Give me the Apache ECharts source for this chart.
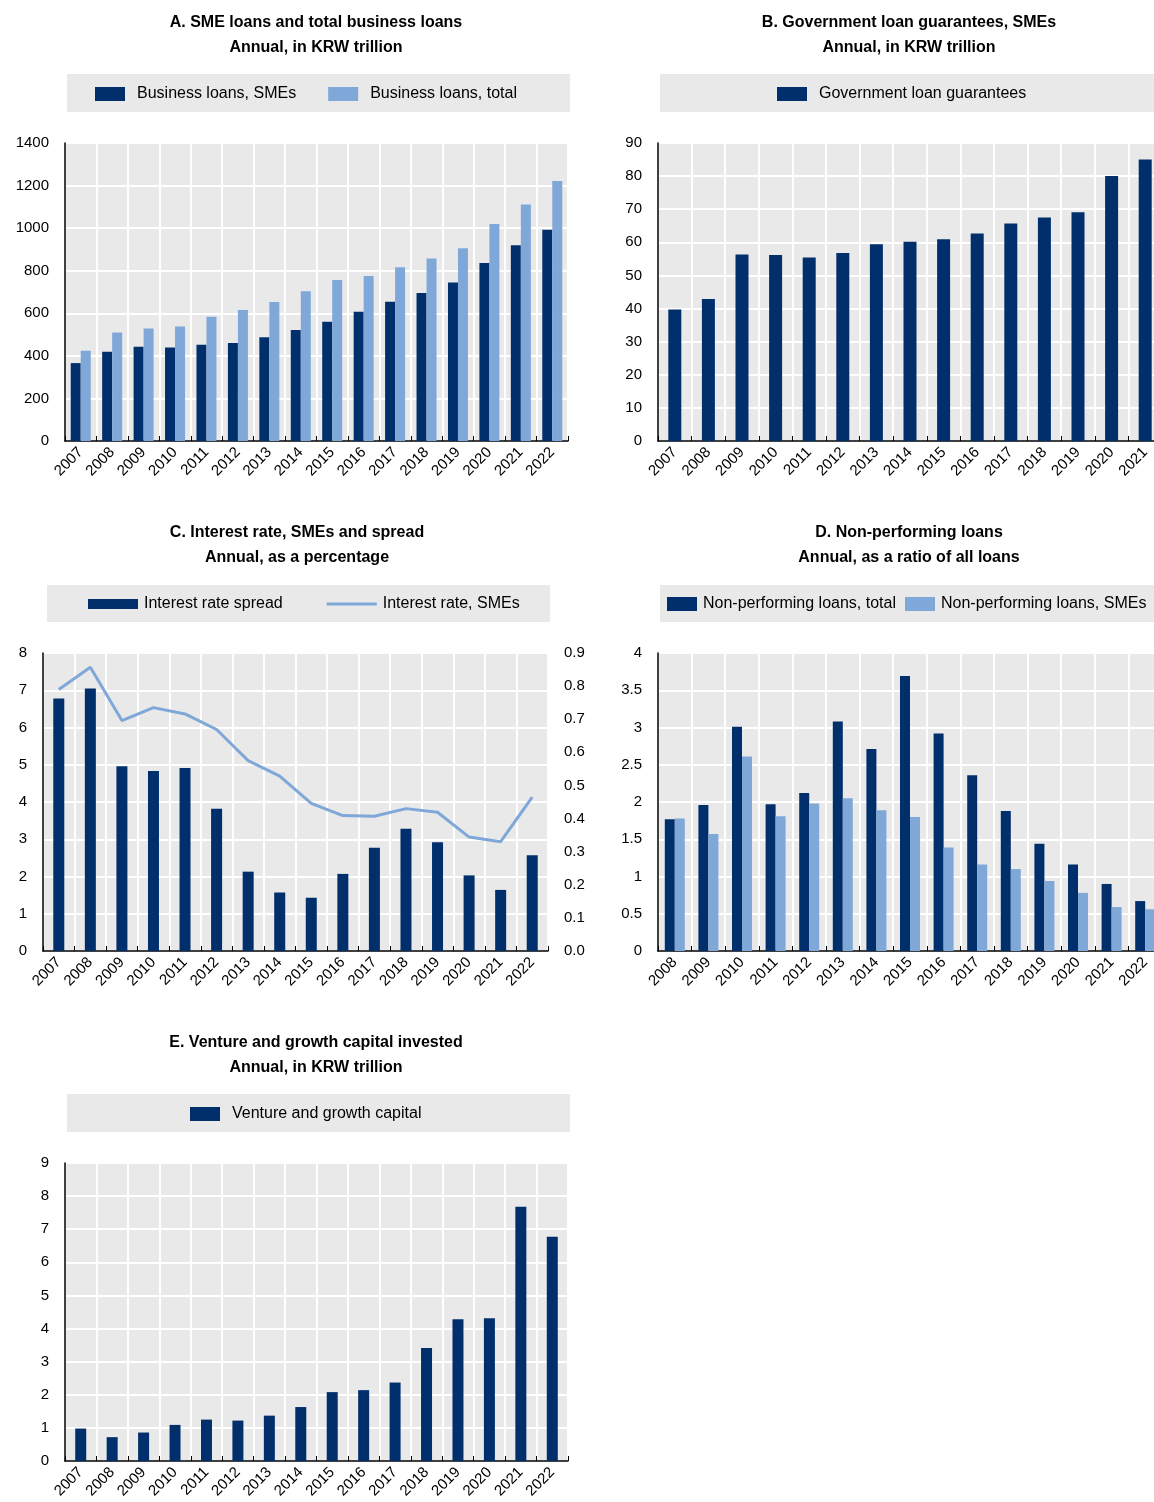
<!DOCTYPE html>
<html>
    <head>
        <meta charset="utf-8">
        <script src="https://cdn.jsdelivr.net/npm/echarts@6/dist/echarts.min.js"></script>
        <style>
            body { margin: 0; background: #fff; }
        </style>
    </head>
    <body>
        <div id="main" style="width: 1154px; height: 1502px;"></div>
        <script>
            var chartDom = document.getElementById('main');
            var myChart = echarts.init(chartDom);
            var option;

            var FONT = "'Liberation Sans Narrow', 'Arial Narrow', 'Liberation Sans', sans-serif";
            var DARK = '#002F6C';
            var LIGHT = '#7FA8D9';

            // years
            var yearsA = ['2007', '2008', '2009', '2010', '2011', '2012', '2013', '2014', '2015', '2016', '2017', '2018', '2019', '2020', '2021', '2022'];
            var yearsB = ['2007', '2008', '2009', '2010', '2011', '2012', '2013', '2014', '2015', '2016', '2017', '2018', '2019', '2020', '2021'];
            var yearsD = ['2008', '2009', '2010', '2011', '2012', '2013', '2014', '2015', '2016', '2017', '2018', '2019', '2020', '2021', '2022'];

            // A. SME loans and total business loans
            var loansSME = [366, 419, 443, 439, 452, 460, 487, 521, 560, 607, 654, 695, 745, 836, 920, 993];
            var loansTotal = [424, 510, 529, 538, 584, 615, 653, 703, 756, 775, 816, 857, 906, 1020, 1111, 1221];

            // B. Government loan guarantees
            var guarantees = [39.7, 42.9, 56.3, 56.2, 55.4, 56.8, 59.4, 60.2, 60.9, 62.7, 65.7, 67.5, 69.1, 80.0, 85.0];

            // C. Interest rate spread (bars, left) and interest rate SMEs (line, right)
            var rateSpread = [6.78, 7.05, 4.96, 4.83, 4.91, 3.82, 2.13, 1.57, 1.43, 2.07, 2.77, 3.28, 2.92, 2.03, 1.64, 2.57];
            var rateSME = [0.790, 0.857, 0.696, 0.735, 0.716, 0.669, 0.575, 0.528, 0.446, 0.409, 0.407, 0.430, 0.419, 0.344, 0.330, 0.465];

            // D. Non-performing loans
            var nplTotal = [1.77, 1.96, 3.01, 1.97, 2.12, 3.08, 2.71, 3.69, 2.92, 2.36, 1.88, 1.44, 1.16, 0.90, 0.67];
            var nplSME = [1.78, 1.57, 2.61, 1.81, 1.98, 2.05, 1.89, 1.80, 1.39, 1.16, 1.10, 0.94, 0.78, 0.59, 0.56];

            // E. Venture and growth capital
            var venture = [0.98, 0.72, 0.86, 1.09, 1.25, 1.22, 1.37, 1.63, 2.08, 2.14, 2.37, 3.41, 4.28, 4.31, 7.68, 6.77];

            function catAxis(gridIndex, data) {
                return {
                    type: 'category',
                    gridIndex: gridIndex,
                    data: data,
                    boundaryGap: true,
                    axisLine: { show: true, lineStyle: { color: '#000', width: 1.5 } },
                    axisTick: { show: true, inside: true, length: 5, lineStyle: { color: '#000' } },
                    axisLabel: { interval: 0, rotate: 45, fontSize: 15, color: '#000', fontFamily: FONT, margin: 9 },
                    splitLine: { show: true, interval: 0, lineStyle: { color: '#fff', width: 2 } }
                };
            }

            function valAxis(gridIndex, max, interval, decimals, position) {
                return {
                    type: 'value',
                    gridIndex: gridIndex,
                    min: 0,
                    max: max,
                    interval: interval,
                    position: position || 'left',
                    axisLine: { show: position !== 'right', lineStyle: { color: '#000', width: 1.5 } },
                    axisTick: { show: false },
                    axisLabel: {
                        fontSize: 15, color: '#000', fontFamily: FONT, margin: 16,
                        formatter: function (v) { return decimals ? v.toFixed(decimals) : String(Math.round(v * 10) / 10); }
                    },
                    splitLine: { show: position !== 'right', lineStyle: { color: '#fff', width: 2 } }
                };
            }

            function titleAt(x, y, txt) {
                return {
                    text: txt,
                    left: x,
                    top: y,
                    textAlign: 'center',
                    textStyle: { fontFamily: FONT, fontSize: 16, fontWeight: 'bold', color: '#000', lineHeight: 25 }
                };
            }

            function legendAt(x, y, names, itemWidth, itemHeight, gap, textPad) {
                return {
                    data: names,
                    left: x,
                    top: y,
                    orient: 'horizontal',
                    padding: 0,
                    itemWidth: itemWidth,
                    itemHeight: itemHeight,
                    itemGap: gap,
                    selectedMode: false,
                    textStyle: { fontFamily: FONT, fontSize: 16, color: '#000', padding: [0, 0, 0, textPad] }
                };
            }

            function box(x, y, w, h) {
                return { type: 'rect', shape: { x: x, y: y, width: w, height: h }, style: { fill: '#e9e9e9' }, z: -1 };
            }

            function gridAt(left, top, width) {
                return {
                    left: left, top: top, width: width, height: 298,
                    show: true, backgroundColor: '#e9e9e9', borderWidth: 0,
                    outerBoundsMode: 'none', containLabel: false
                };
            }

            option = {
                animation: false,
                title: [
                    titleAt(311, 5, 'A. SME loans and total business loans\nAnnual, in KRW trillion'),
                    titleAt(904, 5, 'B. Government loan guarantees, SMEs\nAnnual, in KRW trillion'),
                    titleAt(292, 515, 'C. Interest rate, SMEs and spread\nAnnual, as a percentage'),
                    titleAt(904, 515, 'D. Non-performing loans\nAnnual, as a ratio of all loans'),
                    titleAt(311, 1025, 'E. Venture and growth capital invested\nAnnual, in KRW trillion')
                ],
                graphic: [
                    box(67, 74, 503, 38),
                    box(660, 74, 494, 38),
                    box(47, 585, 503, 37),
                    box(660, 585, 494, 37),
                    box(67, 1094, 503, 38)
                ],
                legend: [
                    legendAt(95, 86, [{ name: 'Business loans, SMEs', icon: 'rect' }, { name: 'Business loans, total', icon: 'rect' }], 30, 14, 32, 7),
                    legendAt(777, 86, [{ name: 'Government loan guarantees', icon: 'rect' }], 30, 14, 20, 7),
                    legendAt(88, 596, [{ name: 'Interest rate spread', icon: 'rect' }, { name: 'Interest rate, SMEs', icon: 'path://M0,0L50,0L50,3L0,3Z' }], 50, 10, 44, 1),
                    legendAt(667, 596, [{ name: 'Non-performing loans, total', icon: 'rect' }, { name: 'Non-performing loans, SMEs', icon: 'rect' }], 30, 14, 9, 1),
                    legendAt(190, 1106, [{ name: 'Venture and growth capital', icon: 'rect' }], 30, 14, 20, 7)
                ],
                grid: [
                    gridAt(65, 143, 503),
                    gridAt(658, 143, 504),
                    gridAt(43, 653, 505),
                    gridAt(658, 653, 504),
                    gridAt(65, 1163, 503)
                ],
                xAxis: [
                    catAxis(0, yearsA),
                    catAxis(1, yearsB),
                    catAxis(2, yearsA),
                    catAxis(3, yearsD),
                    catAxis(4, yearsA)
                ],
                yAxis: [
                    valAxis(0, 1400, 200, 0),
                    valAxis(1, 90, 10, 0),
                    valAxis(2, 8, 1, 0),
                    valAxis(2, 0.9, 0.1, 1, 'right'),
                    valAxis(3, 4, 0.5, 0),
                    valAxis(4, 9, 1, 0)
                ],
                series: [
                    { name: 'Business loans, SMEs', type: 'bar', xAxisIndex: 0, yAxisIndex: 0, data: loansSME, barWidth: 10, barGap: '0%', itemStyle: { color: DARK } },
                    { name: 'Business loans, total', type: 'bar', xAxisIndex: 0, yAxisIndex: 0, data: loansTotal, barWidth: 10, barGap: '0%', itemStyle: { color: LIGHT } },
                    { name: 'Government loan guarantees', type: 'bar', xAxisIndex: 1, yAxisIndex: 1, data: guarantees, barWidth: 13, itemStyle: { color: DARK } },
                    { name: 'Interest rate spread', type: 'bar', xAxisIndex: 2, yAxisIndex: 2, data: rateSpread, barWidth: 11, itemStyle: { color: DARK } },
                    { name: 'Interest rate, SMEs', type: 'line', xAxisIndex: 2, yAxisIndex: 3, data: rateSME, showSymbol: false, symbol: 'none', lineStyle: { color: LIGHT, width: 3 }, itemStyle: { color: LIGHT } },
                    { name: 'Non-performing loans, total', type: 'bar', xAxisIndex: 3, yAxisIndex: 4, data: nplTotal, barWidth: 10, barGap: '0%', itemStyle: { color: DARK } },
                    { name: 'Non-performing loans, SMEs', type: 'bar', xAxisIndex: 3, yAxisIndex: 4, data: nplSME, barWidth: 10, barGap: '0%', itemStyle: { color: LIGHT } },
                    { name: 'Venture and growth capital', type: 'bar', xAxisIndex: 4, yAxisIndex: 5, data: venture, barWidth: 11, itemStyle: { color: DARK } }
                ]
            };

            option && myChart.setOption(option);
        </script>
    </body>
</html>
